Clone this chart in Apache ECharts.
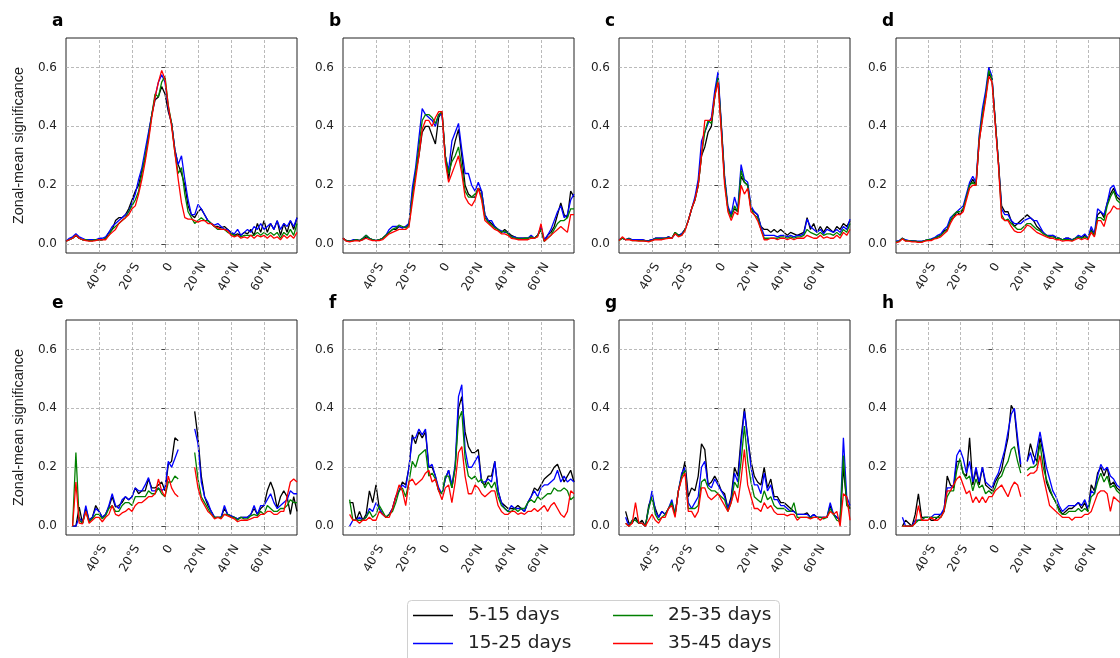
<!DOCTYPE html>
<html><head><meta charset="utf-8">
<script src="https://cdn.jsdelivr.net/npm/echarts@6/dist/echarts.min.js"></script>
<style>html,body{margin:0;padding:0;background:#fff}#c{width:1120px;height:658px}</style>
</head><body><div id="c"></div>
<script>
const lats = [-60,-58,-56,-54,-52,-50,-48,-46,-44,-42,-40,-38,-36,-34,-32,-30,-28,-26,-24,-22,-20,-18,-16,-14,-12,-10,-8,-6,-4,-2,0,2,4,6,8,10,12,14,16,18,20,22,24,26,28,30,32,34,36,38,40,42,44,46,48,50,52,54,56,58,60,62,64,66,68,70,72,74,76,78,80];
const seriesNames = ['5-15 days','15-25 days','25-35 days','35-45 days'];
const panelLetters = ['a','b','c','d','e','f','g','h'];
const xTicks = [-40,-20,0,20,40,60];
const yTicks = [0,0.2,0.4,0.6];
const yLabelName = 'Zonal-mean significance';

const aBlack=[0.01,0.015,0.02,0.03,0.02,0.015,0.015,0.012,0.012,0.015,0.015,0.015,0.02,0.04,0.05,0.08,0.09,0.09,0.1,0.12,0.15,0.18,0.2,0.25,0.29,0.37,0.44,0.49,0.5,0.535,0.51,0.45,0.41,0.32,0.27,0.24,0.2,0.13,0.1,0.09,0.11,0.12,0.1,0.08,0.07,0.06,0.06,0.055,0.06,0.05,0.04,0.03,0.035,0.03,0.04,0.035,0.05,0.03,0.07,0.04,0.08,0.04,0.07,0.05,0.08,0.03,0.07,0.04,0.08,0.05,0.09];
const aBlue=[0.01,0.02,0.025,0.035,0.025,0.02,0.015,0.015,0.015,0.015,0.02,0.02,0.025,0.04,0.06,0.07,0.08,0.09,0.1,0.11,0.14,0.17,0.22,0.26,0.32,0.38,0.44,0.5,0.55,0.575,0.55,0.46,0.41,0.32,0.27,0.3,0.22,0.15,0.1,0.1,0.135,0.12,0.1,0.08,0.07,0.065,0.07,0.06,0.05,0.05,0.04,0.035,0.05,0.03,0.04,0.05,0.04,0.06,0.05,0.07,0.05,0.06,0.07,0.05,0.08,0.05,0.07,0.06,0.08,0.06,0.09];
const aGreen=[0.01,0.015,0.02,0.03,0.02,0.015,0.015,0.012,0.012,0.015,0.015,0.015,0.02,0.03,0.05,0.06,0.07,0.08,0.09,0.11,0.13,0.15,0.18,0.24,0.3,0.36,0.44,0.51,0.5,0.55,0.57,0.47,0.41,0.31,0.24,0.26,0.17,0.11,0.09,0.07,0.08,0.09,0.08,0.08,0.07,0.06,0.05,0.05,0.05,0.04,0.035,0.03,0.03,0.025,0.03,0.03,0.03,0.03,0.04,0.03,0.04,0.03,0.04,0.03,0.04,0.02,0.04,0.03,0.05,0.03,0.07];
const aRed=[0.01,0.015,0.02,0.03,0.02,0.015,0.012,0.01,0.01,0.012,0.015,0.015,0.015,0.03,0.04,0.05,0.07,0.08,0.09,0.1,0.12,0.13,0.17,0.22,0.28,0.35,0.43,0.5,0.55,0.59,0.56,0.47,0.4,0.31,0.22,0.14,0.09,0.085,0.085,0.08,0.075,0.08,0.08,0.07,0.07,0.06,0.055,0.05,0.05,0.045,0.03,0.025,0.03,0.02,0.025,0.02,0.03,0.02,0.03,0.025,0.03,0.02,0.03,0.02,0.025,0.015,0.03,0.02,0.03,0.02,0.04];

const bBlack=[0.02,0.012,0.01,0.012,0.015,0.012,0.015,0.025,0.02,0.015,0.012,0.015,0.02,0.03,0.04,0.05,0.05,0.06,0.055,0.06,0.07,0.17,0.24,0.3,0.38,0.4,0.4,0.37,0.34,0.43,0.45,0.3,0.22,0.3,0.35,0.39,0.3,0.2,0.17,0.16,0.16,0.19,0.18,0.1,0.08,0.07,0.06,0.05,0.04,0.05,0.04,0.03,0.025,0.02,0.02,0.02,0.02,0.025,0.02,0.03,0.05,0.01,0.03,0.04,0.06,0.1,0.14,0.1,0.09,0.18,0.16];
const bBlue=[0.02,0.012,0.01,0.015,0.015,0.012,0.02,0.03,0.02,0.015,0.012,0.015,0.02,0.03,0.05,0.06,0.06,0.06,0.055,0.06,0.07,0.19,0.26,0.36,0.46,0.44,0.43,0.42,0.4,0.44,0.44,0.3,0.25,0.35,0.38,0.41,0.32,0.24,0.24,0.2,0.18,0.21,0.18,0.1,0.08,0.08,0.06,0.05,0.045,0.04,0.04,0.025,0.025,0.02,0.02,0.02,0.02,0.03,0.02,0.03,0.06,0.015,0.03,0.05,0.08,0.11,0.13,0.09,0.1,0.15,0.17];
const bGreen=[0.02,0.012,0.01,0.012,0.015,0.012,0.02,0.03,0.02,0.015,0.012,0.015,0.02,0.03,0.04,0.05,0.055,0.065,0.06,0.055,0.065,0.16,0.24,0.33,0.42,0.44,0.44,0.43,0.41,0.44,0.45,0.3,0.24,0.28,0.3,0.33,0.26,0.18,0.16,0.16,0.17,0.19,0.16,0.09,0.075,0.065,0.055,0.05,0.04,0.045,0.035,0.025,0.02,0.02,0.018,0.02,0.02,0.025,0.02,0.03,0.05,0.01,0.02,0.03,0.05,0.07,0.08,0.08,0.09,0.12,0.12];
const bRed=[0.02,0.01,0.008,0.01,0.012,0.01,0.015,0.02,0.015,0.012,0.012,0.012,0.015,0.025,0.035,0.04,0.045,0.05,0.05,0.05,0.06,0.14,0.22,0.3,0.39,0.42,0.42,0.4,0.43,0.45,0.45,0.28,0.21,0.24,0.27,0.3,0.24,0.16,0.14,0.13,0.15,0.19,0.15,0.08,0.07,0.06,0.05,0.045,0.035,0.035,0.03,0.02,0.018,0.015,0.015,0.015,0.015,0.02,0.02,0.025,0.07,0.01,0.02,0.03,0.04,0.05,0.06,0.05,0.04,0.1,0.1];

const cBlack=[0.015,0.02,0.015,0.02,0.015,0.015,0.015,0.015,0.012,0.012,0.015,0.02,0.02,0.02,0.02,0.025,0.02,0.04,0.03,0.035,0.05,0.08,0.12,0.15,0.2,0.3,0.33,0.38,0.4,0.5,0.575,0.4,0.22,0.12,0.1,0.12,0.11,0.23,0.21,0.2,0.12,0.11,0.1,0.06,0.05,0.05,0.04,0.05,0.04,0.05,0.04,0.03,0.04,0.035,0.03,0.035,0.04,0.09,0.05,0.07,0.04,0.06,0.04,0.06,0.05,0.04,0.06,0.05,0.07,0.06,0.08];
const cBlue=[0.015,0.02,0.015,0.02,0.015,0.015,0.015,0.015,0.012,0.012,0.015,0.02,0.02,0.02,0.02,0.025,0.02,0.035,0.03,0.035,0.05,0.08,0.12,0.16,0.22,0.35,0.38,0.41,0.43,0.52,0.585,0.41,0.23,0.13,0.1,0.16,0.12,0.27,0.22,0.21,0.13,0.11,0.1,0.06,0.03,0.03,0.03,0.03,0.025,0.03,0.03,0.025,0.03,0.025,0.03,0.03,0.035,0.085,0.06,0.05,0.04,0.05,0.035,0.05,0.045,0.04,0.05,0.04,0.06,0.05,0.085];
const cGreen=[0.012,0.02,0.015,0.018,0.012,0.012,0.012,0.012,0.01,0.01,0.012,0.018,0.018,0.018,0.02,0.022,0.02,0.04,0.03,0.03,0.05,0.08,0.12,0.15,0.2,0.3,0.38,0.42,0.41,0.5,0.565,0.4,0.22,0.12,0.09,0.13,0.11,0.25,0.21,0.2,0.12,0.1,0.09,0.05,0.02,0.02,0.02,0.02,0.02,0.025,0.025,0.02,0.025,0.02,0.025,0.025,0.03,0.05,0.04,0.035,0.03,0.04,0.03,0.035,0.035,0.03,0.04,0.03,0.05,0.04,0.07];
const cRed=[0.012,0.025,0.015,0.015,0.012,0.012,0.01,0.01,0.01,0.008,0.012,0.015,0.015,0.015,0.018,0.02,0.02,0.035,0.025,0.03,0.045,0.08,0.12,0.15,0.2,0.3,0.42,0.42,0.42,0.5,0.55,0.38,0.2,0.11,0.08,0.11,0.1,0.2,0.17,0.19,0.11,0.1,0.08,0.05,0.015,0.015,0.02,0.02,0.015,0.02,0.02,0.015,0.02,0.015,0.02,0.02,0.02,0.03,0.025,0.02,0.02,0.03,0.02,0.025,0.02,0.02,0.03,0.02,0.04,0.03,0.05];

const dBlack=[0.008,0.01,0.02,0.012,0.012,0.01,0.01,0.008,0.008,0.012,0.015,0.015,0.02,0.025,0.03,0.045,0.05,0.08,0.09,0.11,0.1,0.12,0.16,0.2,0.22,0.2,0.35,0.43,0.5,0.58,0.56,0.42,0.28,0.13,0.11,0.11,0.08,0.06,0.07,0.08,0.09,0.1,0.09,0.08,0.06,0.05,0.04,0.03,0.025,0.03,0.02,0.02,0.015,0.02,0.02,0.015,0.02,0.025,0.02,0.03,0.02,0.05,0.03,0.1,0.11,0.09,0.14,0.17,0.19,0.16,0.15];
const dBlue=[0.01,0.012,0.02,0.015,0.012,0.012,0.01,0.01,0.01,0.012,0.015,0.018,0.022,0.03,0.035,0.05,0.06,0.09,0.1,0.11,0.12,0.13,0.17,0.21,0.23,0.21,0.37,0.46,0.52,0.6,0.57,0.42,0.28,0.12,0.1,0.1,0.08,0.07,0.07,0.07,0.08,0.085,0.09,0.08,0.08,0.06,0.04,0.03,0.03,0.03,0.025,0.02,0.015,0.02,0.02,0.015,0.02,0.03,0.025,0.035,0.02,0.06,0.035,0.12,0.11,0.1,0.14,0.19,0.2,0.17,0.16];
const dGreen=[0.008,0.01,0.02,0.012,0.012,0.01,0.01,0.008,0.008,0.012,0.015,0.015,0.02,0.025,0.03,0.04,0.05,0.08,0.1,0.11,0.11,0.12,0.16,0.2,0.21,0.2,0.36,0.44,0.5,0.59,0.56,0.42,0.28,0.1,0.08,0.085,0.07,0.06,0.05,0.05,0.06,0.07,0.07,0.06,0.05,0.045,0.035,0.03,0.025,0.025,0.02,0.02,0.015,0.015,0.015,0.012,0.02,0.025,0.02,0.025,0.02,0.045,0.03,0.09,0.09,0.08,0.13,0.16,0.18,0.15,0.14];
const dRed=[0.005,0.008,0.018,0.01,0.01,0.008,0.008,0.006,0.006,0.01,0.012,0.012,0.018,0.02,0.025,0.035,0.045,0.07,0.09,0.1,0.1,0.11,0.15,0.19,0.2,0.2,0.35,0.42,0.49,0.57,0.55,0.41,0.27,0.09,0.08,0.08,0.06,0.045,0.04,0.04,0.05,0.065,0.06,0.05,0.04,0.035,0.03,0.025,0.02,0.02,0.015,0.015,0.01,0.012,0.012,0.01,0.015,0.02,0.015,0.02,0.015,0.04,0.025,0.08,0.08,0.06,0.1,0.11,0.13,0.12,0.12];

const eBlack=[null,null,0,0,0.065,0.01,0.06,0.02,0.03,0.07,0.05,0.03,0.04,0.065,0.1,0.065,0.07,0.08,0.1,0.09,0.1,0.13,0.11,0.12,0.12,0.16,0.13,0.13,0.14,0.15,0.12,0.21,0.22,0.3,0.29,null,null,null,null,0.39,0.3,0.17,0.1,0.07,0.05,0.03,0.03,0.03,0.06,0.04,0.035,0.03,0.025,0.03,0.03,0.03,0.04,0.06,0.04,0.06,0.07,0.12,0.15,0.12,0.06,0.1,0.12,0.1,0.04,0.1,0.05];
const eBlue=[null,null,0,0,0.03,0.01,0.07,0.02,0.03,0.06,0.05,0.03,0.04,0.07,0.11,0.07,0.06,0.09,0.1,0.09,0.1,0.13,0.12,0.12,0.14,0.165,0.12,0.12,0.13,0.12,0.13,0.22,0.2,0.23,0.26,null,null,null,null,0.33,0.28,0.15,0.1,0.08,0.05,0.03,0.03,0.03,0.07,0.04,0.035,0.03,0.025,0.03,0.03,0.03,0.04,0.07,0.04,0.07,0.07,0.09,0.11,0.08,0.06,0.07,0.08,0.09,0.12,0.11,0.11];
const eGreen=[null,null,0,0.25,0.02,0.01,0.05,0.015,0.025,0.04,0.04,0.025,0.035,0.06,0.07,0.05,0.05,0.07,0.08,0.08,0.07,0.1,0.1,0.1,0.1,0.12,0.11,0.11,0.13,0.11,0.1,0.15,0.15,0.17,0.16,null,null,null,null,0.25,0.16,0.1,0.08,0.06,0.04,0.03,0.03,0.03,0.04,0.04,0.03,0.03,0.02,0.03,0.025,0.025,0.035,0.04,0.035,0.05,0.04,0.07,0.06,0.05,0.05,0.06,0.06,0.07,0.09,0.08,0.08];
const eRed=[null,null,0,0.15,0.01,0.008,0.05,0.01,0.02,0.03,0.03,0.015,0.03,0.04,0.07,0.04,0.035,0.045,0.05,0.06,0.05,0.07,0.08,0.08,0.09,0.1,0.1,0.11,0.16,0.12,0.1,0.17,0.13,0.11,0.1,null,null,null,null,0.2,0.13,0.09,0.07,0.05,0.04,0.025,0.03,0.025,0.04,0.035,0.03,0.025,0.015,0.02,0.02,0.02,0.025,0.03,0.03,0.04,0.04,0.05,0.05,0.04,0.04,0.05,0.05,0.1,0.15,0.16,0.15];

const fBlack=[null,null,0.08,0.08,0.02,0.05,0.02,0.04,0.12,0.08,0.14,0.06,0.04,0.03,0.04,0.06,0.1,0.12,0.15,0.14,0.2,0.31,0.28,0.32,0.3,0.32,0.2,0.2,0.17,0.12,0.11,0.16,0.19,0.13,0.2,0.4,0.44,0.32,0.27,0.25,0.25,0.26,0.15,0.14,0.17,0.17,0.22,0.12,0.08,0.07,0.06,0.06,0.06,0.07,0.06,0.05,0.08,0.1,0.13,0.12,0.14,0.16,0.17,0.18,0.2,0.21,0.18,0.15,0.17,0.19,0.15];
const fBlue=[null,null,0,0.02,0.02,0.03,0.02,0.03,0.06,0.05,0.08,0.06,0.04,0.03,0.04,0.06,0.1,0.12,0.14,0.13,0.2,0.3,0.3,0.33,0.31,0.33,0.2,0.21,0.17,0.13,0.11,0.16,0.19,0.14,0.21,0.44,0.48,0.26,0.2,0.2,0.22,0.24,0.15,0.15,0.16,0.15,0.22,0.12,0.08,0.06,0.05,0.07,0.06,0.06,0.06,0.05,0.08,0.1,0.12,0.1,0.13,0.14,0.14,0.15,0.16,0.19,0.15,0.17,0.15,0.16,0.15];
const fGreen=[null,null,0.09,0.02,0.02,0.02,0.02,0.03,0.05,0.03,0.04,0.07,0.05,0.03,0.04,0.05,0.08,0.12,0.13,0.1,0.15,0.22,0.2,0.24,0.25,0.26,0.17,0.18,0.16,0.12,0.11,0.17,0.17,0.13,0.2,0.36,0.39,0.23,0.17,0.16,0.17,0.15,0.16,0.13,0.15,0.13,0.15,0.1,0.07,0.06,0.05,0.05,0.06,0.05,0.06,0.06,0.08,0.09,0.08,0.1,0.09,0.1,0.11,0.11,0.13,0.12,0.12,0.13,0.12,0.09,0.1];
const fRed=[null,null,0.04,0.02,0.02,0.01,0.02,0.02,0.03,0.02,0.02,0.05,0.04,0.03,0.03,0.06,0.1,0.14,0.12,0.07,0.15,0.16,0.14,0.15,0.16,0.18,0.19,0.15,0.16,0.12,0.09,0.13,0.14,0.08,0.15,0.25,0.27,0.17,0.11,0.11,0.14,0.13,0.11,0.1,0.11,0.12,0.12,0.07,0.05,0.04,0.04,0.05,0.05,0.04,0.045,0.04,0.05,0.05,0.06,0.05,0.06,0.07,0.05,0.07,0.08,0.06,0.04,0.03,0.05,0.12,0.11];

const gBlack=[null,null,0.05,0.01,0.01,0.03,0.01,0.02,0,0.07,0.1,0.06,0.03,0.05,0.04,0.06,0.08,0.04,0.12,0.17,0.22,0.1,0.13,0.12,0.17,0.28,0.26,0.14,0.15,0.17,0.15,0.12,0.11,0.06,0.1,0.2,0.17,0.3,0.4,0.3,0.22,0.17,0.15,0.14,0.2,0.13,0.16,0.1,0.1,0.08,0.08,0.07,0.06,0.05,0.04,0.04,0.04,0.045,0.03,0.04,0.03,0.03,0.03,0.03,0.07,0.04,0.03,0.02,0.2,0.08,0.06];
const gBlue=[null,null,0.03,0,0.02,0.02,0.01,0.01,0,0.06,0.12,0.05,0.03,0.05,0.04,0.06,0.09,0.04,0.12,0.18,0.2,0.08,0.06,0.08,0.1,0.2,0.22,0.14,0.13,0.16,0.14,0.12,0.1,0.06,0.09,0.18,0.15,0.28,0.39,0.3,0.2,0.14,0.14,0.11,0.18,0.12,0.14,0.09,0.09,0.07,0.07,0.06,0.05,0.05,0.04,0.04,0.04,0.04,0.03,0.04,0.03,0.03,0.03,0.03,0.08,0.04,0.03,0.02,0.3,0.1,0.07];
const gGreen=[null,null,0.01,0,0.02,0.02,0.01,0.01,0,0.06,0.1,0.04,0.02,0.03,0.04,0.06,0.08,0.04,0.12,0.17,0.19,0.06,0.06,0.06,0.07,0.15,0.16,0.13,0.12,0.12,0.11,0.1,0.09,0.05,0.08,0.15,0.13,0.22,0.34,0.22,0.15,0.1,0.09,0.08,0.12,0.09,0.1,0.07,0.06,0.06,0.06,0.05,0.05,0.08,0.03,0.03,0.03,0.03,0.03,0.03,0.03,0.03,0.025,0.03,0.06,0.04,0.02,0.015,0.24,0.07,0.06];
const gRed=[null,null,0.01,0,0.01,0.08,0.01,0.01,0,0.02,0.04,0.02,0.01,0.03,0.03,0.06,0.07,0.03,0.12,0.16,0.18,0.05,0.05,0.03,0.05,0.13,0.13,0.1,0.09,0.1,0.11,0.09,0.07,0.05,0.08,0.12,0.08,0.16,0.26,0.14,0.1,0.06,0.06,0.05,0.08,0.06,0.07,0.05,0.04,0.04,0.04,0.035,0.04,0.04,0.02,0.03,0.03,0.03,0.025,0.03,0.03,0.02,0.03,0.03,0.05,0.04,0.05,0,0.11,0.1,0.02];

const hBlack=[null,null,0,0.02,0.01,0,0.04,0.11,0.03,0.03,0.03,0.02,0.02,0.03,0.04,0.05,0.17,0.14,0.13,0.22,0.22,0.18,0.17,0.3,0.14,0.19,0.14,0.2,0.14,0.13,0.12,0.15,0.17,0.19,0.25,0.3,0.41,0.39,0.28,0.2,null,0.22,0.28,0.24,0.22,0.3,0.25,0.15,0.12,0.1,0.08,0.06,0.04,0.05,0.06,0.06,0.07,0.08,0.06,0.08,0.05,0.14,0.12,0.18,0.2,0.17,0.2,0.14,0.15,0.13,0.12];
const hBlue=[null,null,0.03,0,0,0,0.02,0.02,0.02,0.03,0.03,0.03,0.04,0.04,0.04,0.06,0.13,0.13,0.14,0.24,0.26,0.23,0.18,0.22,0.15,0.2,0.15,0.2,0.15,0.14,0.13,0.16,0.18,0.22,0.26,0.32,0.38,0.4,0.3,0.21,null,0.22,0.25,0.21,0.26,0.32,0.26,0.2,0.16,0.12,0.1,0.07,0.05,0.06,0.07,0.07,0.07,0.08,0.07,0.09,0.06,0.12,0.11,0.17,0.21,0.19,0.2,0.17,0.16,0.14,0.13];
const hGreen=[null,null,0,0,0,0,0.01,0.02,0.02,0.03,0.03,0.03,0.03,0.03,0.03,0.05,0.1,0.12,0.12,0.19,0.23,0.18,0.16,0.17,0.12,0.16,0.13,0.14,0.11,0.12,0.11,0.13,0.16,0.17,0.2,0.22,0.26,0.27,0.22,0.18,null,0.19,0.2,0.2,0.21,0.28,0.2,0.16,0.13,0.1,0.08,0.05,0.04,0.04,0.05,0.05,0.05,0.06,0.05,0.06,0.05,0.1,0.11,0.15,0.18,0.15,0.17,0.13,0.14,0.12,0.11];
const hRed=[null,null,0,0,0,0,0.01,0.07,0.02,0.02,0.02,0.03,0.02,0.02,0.03,0.05,0.12,0.12,0.14,0.16,0.17,0.14,0.11,0.12,0.08,0.1,0.08,0.1,0.08,0.1,0.1,0.12,0.13,0.14,0.12,0.1,0.13,0.15,0.14,0.1,null,0.17,0.18,0.18,0.19,0.24,0.17,0.12,0.07,0.06,0.05,0.04,0.03,0.03,0.03,0.02,0.03,0.03,0.03,0.04,0.04,0.05,0.08,0.11,0.12,0.12,0.11,0.05,0.1,0.09,0.08];

const panelSeries = [
  [aBlack,aBlue,aGreen,aRed],[bBlack,bBlue,bGreen,bRed],[cBlack,cBlue,cGreen,cRed],[dBlack,dBlue,dGreen,dRed],
  [eBlack,eBlue,eGreen,eRed],[fBlack,fBlue,fGreen,fRed],[gBlack,gBlue,gGreen,gRed],[hBlack,hBlue,hGreen,hRed]
];

// ---- layout / style ----
const colors = ['#000000','#0000ff','#008000','#ff0000'];
const colLeft = [66,343,619,896], rowTop = [38,320], gw = 231, gh = 215;
const tickFont = 'DejaVu Sans';
const gridColor = '#a8a8a8';
const fmtLat = v => xTicks.indexOf(v) < 0 ? '' : (v < 0 ? (-v) + '°S' : (v === 0 ? '0' : v + '°N'));

const grids=[], xAxes=[], yAxes=[], series=[], titles=[];
panelSeries.forEach((sets,i)=>{
  const c=i%4, r=Math.floor(i/4);
  grids.push({left:colLeft[c], top:rowTop[r], width:gw, height:gh, show:true, borderColor:'#222', borderWidth:1, backgroundColor:'transparent'});
  xAxes.push({type:'value', gridIndex:i, min:-60, max:80, interval:20,
    axisLine:{show:false},
    axisTick:{show:true, length:3.5, customValues:xTicks, lineStyle:{color:'#222', width:0.8}},
    axisLabel:{customValues:xTicks, formatter:fmtLat, rotate:60, align:'right', verticalAlign:'top', margin:8,
      fontSize:12, fontFamily:tickFont, color:'#222'},
    splitLine:{show:false}});
  yAxes.push({type:'value', gridIndex:i, min:-0.03, max:0.7, splitNumber:4,
    axisLine:{show:false},
    axisTick:{show:true, length:3.5, customValues:yTicks, lineStyle:{color:'#222', width:0.8}},
    axisLabel:{customValues:yTicks, formatter:v=>v.toFixed(1), margin:9, fontSize:12, fontFamily:tickFont, color:'#222'},
    splitLine:{show:true, lineStyle:{color:gridColor, type:[3,2], width:0.8}},
    name: c===0 ? yLabelName : '', nameLocation:'middle', nameGap:40, nameRotate:90,
    nameTextStyle:{fontFamily:'Liberation Sans', fontSize:14.5, color:'#222'}});
  titles.push({text:panelLetters[i], left:colLeft[c]-14, top:rowTop[r]-25, padding:0,
    textStyle:{fontSize:17, fontWeight:'bold', fontFamily:'DejaVu Sans', color:'#000'}});
  // vertical grid lines at the latitude ticks (drawn through the axis scale)
  series.push({type:'line', name:'grid'+i, xAxisIndex:i, yAxisIndex:i, data:[], silent:true, z:1,
    markLine:{silent:true, symbol:['none','none'], label:{show:false}, animation:false,
      lineStyle:{color:gridColor, type:[3,2], width:0.8},
      emphasis:{disabled:true},
      data: xTicks.map(v=>({xAxis:v}))}});
  sets.forEach((vals,s)=>{
    series.push({type:'line', name:seriesNames[s], xAxisIndex:i, yAxisIndex:i,
      data: lats.map((x,j)=>[x, vals[j]==null ? '-' : vals[j]]),
      symbol:'none', showSymbol:false, connectNulls:false, silent:true, z:2+s,
      lineStyle:{width:1.3, color:colors[s]}, itemStyle:{color:colors[s]}});
  });
});

const legendBase = {orient:'vertical', top:606, icon:'rect', itemWidth:40, itemHeight:1.6, itemGap:9, padding:0, z:10,
  textStyle:{fontSize:18.5, fontFamily:'DejaVu Sans', color:'#222', padding:[0,0,0,10]}};

const chart = echarts.init(document.getElementById('c'), null, {renderer:'canvas'});
chart.setOption({
  animation:false,
  backgroundColor:'#fff',
  title: titles,
  grid: grids, xAxis: xAxes, yAxis: yAxes, series: series,
  legend: [
    Object.assign({}, legendBase, {left:413, data:[seriesNames[0], seriesNames[1]]}),
    Object.assign({}, legendBase, {left:613, data:[seriesNames[2], seriesNames[3]]})
  ],
  graphic: [{type:'rect', z:1, silent:true, shape:{x:407.5, y:600.5, width:372, height:80, r:4},
    style:{fill:'#fff', stroke:'#d0d0d0', lineWidth:1}}]
});
</script></body></html>
